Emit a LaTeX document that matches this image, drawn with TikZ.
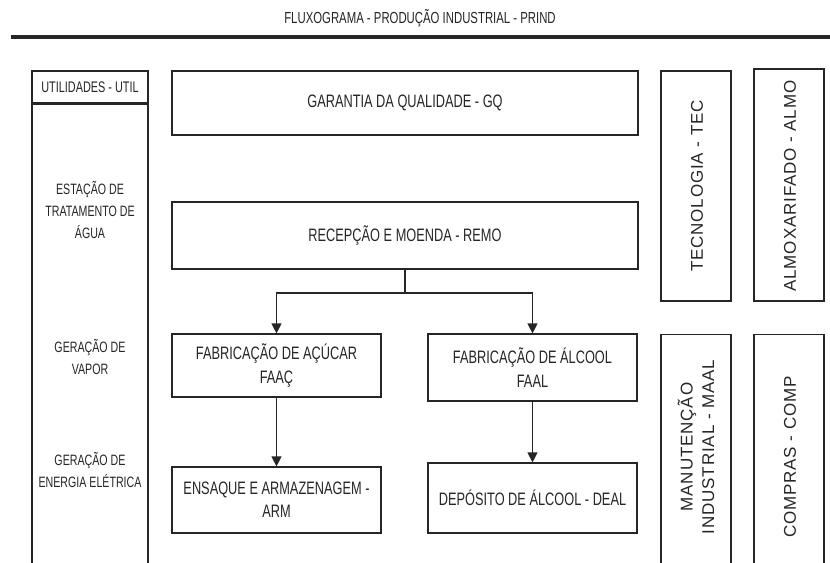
\documentclass[tikz,border=0pt]{standalone}
\usepackage{fontspec}
\setmainfont{Liberation Sans}
\newfontfamily\narrowf{Liberation Sans}[FakeStretch=0.71]
\newfontfamily\spacedf{Liberation Sans}[LetterSpace=5]
\usetikzlibrary{arrows.meta}
\def\u{0.75pt}
\definecolor{ink}{HTML}{262626}
\tikzset{
  boxnode/.style={draw=ink, line width=0.9pt, inner sep=0pt, text=ink, align=center,
     font=\narrowf\fontsize{13.5pt}{17.5pt}\selectfont},
  lefttext/.style={text=ink, align=center, inner sep=0pt,
     font=\narrowf\fontsize{11.25pt}{16.5pt}\selectfont},
  rottext/.style={text=ink, align=center, inner sep=0pt, rotate=90,
     font=\spacedf\fontsize{12.75pt}{16pt}\selectfont},
  flow/.style={draw=ink, line width=0.9pt},
  arrowline/.style={flow, -{Triangle[width=7.5pt,length=7.5pt]}},
}
\begin{document}
\begin{tikzpicture}[x=0.75pt, y=-0.75pt]
\useasboundingbox (0,0) rectangle (830,562);
\clip (0,0) rectangle (830,562);
\fill[white] (0,0) rectangle (830,562);
% title
\node[text=ink, inner sep=0pt, font=\narrowf\fontsize{12pt}{14pt}\selectfont] (title) at (420,18) {FLUXOGRAMA - PRODUÇÃO INDUSTRIAL - PRIND};
\coordinate (tl) at (11,37);
\coordinate (tr) at (832,37);
\draw[draw=ink, line width=2.3pt] (tl) -- (tr);
% utilities column
\node[boxnode, font=\narrowf\fontsize{11.5pt}{13pt}\selectfont, minimum width=116*\u, minimum height=32*\u] (utilh) at (90,87) {UTILIDADES - UTIL};
\node[boxnode, minimum width=116*\u, minimum height=480*\u, anchor=north] (utilb) at (utilh.south) {};
\node[lefttext] (eta) at (90,210) {ESTAÇÃO DE\\TRATAMENTO DE\\ÁGUA};
\node[lefttext] (vap) at (90,357) {GERAÇÃO DE\\VAPOR};
\node[lefttext] (ene) at (90,470) {GERAÇÃO DE\\ENERGIA ELÉTRICA};
% main boxes
\node[boxnode, minimum width=466*\u, minimum height=64*\u] (gq) at (405,103) {GARANTIA DA QUALIDADE - GQ};
\node[boxnode, minimum width=466*\u, minimum height=67*\u] (remo) at (405,235.5) {RECEPÇÃO E MOENDA - REMO};
\node[boxnode, minimum width=209*\u, minimum height=63*\u] (faac) at (276.5,365.5) {FABRICAÇÃO DE AÇÚCAR\\FAAÇ};
\node[boxnode, minimum width=209*\u, minimum height=67*\u] (faal) at (532.5,367.5) {FABRICAÇÃO DE ÁLCOOL\\FAAL};
\node[boxnode, minimum width=209*\u, minimum height=66*\u] (arm) at (276.5,500) {ENSAQUE E ARMAZENAGEM -\\ARM};
\node[boxnode, minimum width=209*\u, minimum height=70*\u] (deal) at (532.5,498) {DEPÓSITO DE ÁLCOOL - DEAL};
% right boxes
\node[boxnode, minimum width=70*\u, minimum height=230*\u] (tec) at (696,186) {};
\node[rottext] (tect) at (697,186) {TECNOLOGIA - TEC};
\node[boxnode, minimum width=70*\u, minimum height=232*\u] (almo) at (789,185) {};
\node[rottext] (almot) at (790,186) {ALMOXARIFADO - ALMO};
\node[boxnode, minimum width=70*\u, minimum height=250*\u, anchor=north] (maal) at (696,334) {};
\node[rottext] (maalt) at (696,447) {MANUTENÇÃO\\INDUSTRIAL - MAAL};
\node[boxnode, minimum width=70*\u, minimum height=250*\u, anchor=north] (comp) at (789,334) {};
\node[rottext] (compt) at (790,457) {COMPRAS - COMP};
% connectors
\coordinate (j) at (405,293);
\draw[flow] (remo.south) -- (j);
\draw[arrowline] (j) -| (faac.north);
\draw[arrowline] (j) -| (faal.north);
\draw[arrowline] (faac.south) -- (arm.north);
\draw[arrowline] (faal.south) -- (deal.north);
\end{tikzpicture}
\end{document}
